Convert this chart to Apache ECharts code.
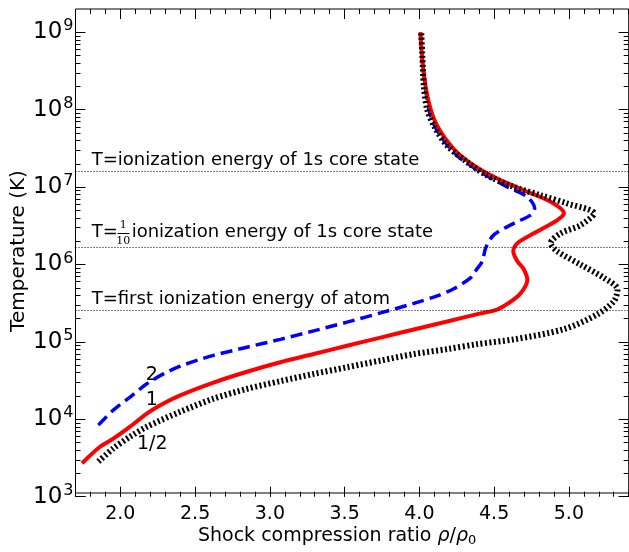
<!DOCTYPE html>
<html>
<head>
<meta charset="utf-8">
<script src="https://cdn.jsdelivr.net/npm/echarts@6/dist/echarts.min.js"></script>
<style>
    html, body { margin: 0; padding: 0; background: #fff; }
    #chart { width: 629px; height: 552px; }
</style>
</head>
<body>
<div id="chart"></div>
<script>
// curve "2" (blue dashed)
var rho2 = [1.853, 1.953, 2.065, 2.177, 2.288, 2.400, 2.512, 2.623, 2.847, 3.070, 3.293, 3.516, 3.740, 3.963, 4.119, 4.230, 4.342, 4.380, 4.421, 4.443, 4.498, 4.632, 4.744, 4.771, 4.722, 4.588, 4.409, 4.253, 4.141, 4.074, 4.026, 4.007];
var temp2 = [7.66e3, 1.20e4, 1.77e4, 2.64e4, 3.55e4, 4.47e4, 5.33e4, 6.19e4, 7.91e4, 1.0e5, 1.29e5, 1.675e5, 2.21e5, 2.94e5, 3.69e5, 4.57e5, 6.31e5, 8.0e5, 1.04e6, 1.54e6, 2.29e6, 3.24e6, 4.15e6, 5.06e6, 7.16e6, 9.64e6, 1.51e7, 2.47e7, 4.48e7, 8.13e7, 3.26e8, 1.0e9];

// curve "1" (red solid)
var rho1 = [1.744, 1.864, 1.953, 2.065, 2.177, 2.288, 2.400, 2.623, 2.847, 3.070, 3.293, 3.516, 3.740, 3.963, 4.186, 4.409, 4.521, 4.632, 4.690, 4.722, 4.697, 4.655, 4.628, 4.655, 4.766, 4.923, 4.967, 4.878, 4.699, 4.521, 4.364, 4.230, 4.119, 4.063, 4.026, 4.007];
var temp1 = [2.44e3, 4.0e3, 5.1e3, 7.3e3, 1.08e4, 1.46e4, 1.87e4, 2.74e4, 3.79e4, 5.04e4, 6.46e4, 8.26e4, 1.055e5, 1.343e5, 1.71e5, 2.18e5, 2.45e5, 3.31e5, 4.29e5, 5.94e5, 8.24e5, 1.04e6, 1.40e6, 1.79e6, 2.40e6, 3.57e6, 4.37e6, 6.18e6, 8.73e6, 1.24e7, 1.84e7, 3.01e7, 6.03e7, 1.21e8, 3.26e8, 1.0e9];

// curve "1/2" (black dotted)
var rhoHalf = [1.853, 1.953, 2.065, 2.177, 2.400, 2.623, 2.847, 3.070, 3.293, 3.516, 3.740, 3.963, 4.186, 4.387, 4.632, 4.967, 5.191, 5.302, 5.325, 5.235, 5.079, 4.923, 4.878, 4.945, 5.079, 5.168, 4.990, 4.811, 4.632, 4.454, 4.320, 4.186, 4.097, 4.052, 4.030, 4.019, 4.012];
var tempHalf = [2.57e3, 3.81e3, 5.41e3, 7.28e3, 1.14e4, 1.69e4, 2.27e4, 2.86e4, 3.55e4, 4.34e4, 5.30e4, 6.44e4, 7.47e4, 8.67e4, 1.0e5, 1.36e5, 2.12e5, 3.16e5, 4.45e5, 6.31e5, 9.38e5, 1.40e6, 1.79e6, 2.40e6, 3.08e6, 4.37e6, 5.87e6, 7.52e6, 9.64e6, 1.36e7, 2.03e7, 3.33e7, 6.03e7, 9.91e7, 1.98e8, 5.36e8, 1.0e9];

// reference temperatures (dotted horizontal lines)
var refTemps = [1.55e7, 1.57e6, 2.43e5];

var xMin = 1.7, xMax = 5.4;
var yMin = 1e3, yMax = 2e9;

var FONT = 'DejaVu Sans';
var W = 629, H = 552;
var gl = 75.5, gr = 0.3, gt = 9, gb = 55.3;
var pxPerUnit = (W - gl - gr) / (xMax - xMin);
var pxPerDecade = (H - gt - gb) / (Math.log10(yMax) - Math.log10(yMin));
// grid used only for the major x ticks 2.0 ... 5.0
var majLeft = gl + (2.0 - xMin) * pxPerUnit;
var majRight = W - (gl + (5.0 - xMin) * pxPerUnit);
// grid used only for the decade ticks 1e3 ... 1e9
var decTop = gt + (Math.log10(yMax) - 9) * pxPerDecade;

function zip(a, b) {
    return a.map(function (v, i) { return [v, b[i]]; });
}

var tickStyle = { color: '#000', width: 1 };

var option = {
    animation: false,
    backgroundColor: '#fff',
    grid: [
        { left: gl, right: gr, top: gt, bottom: gb, show: true, borderColor: '#000', borderWidth: 1 },
        { left: gl, right: gr, top: decTop, bottom: gb },
        { left: majLeft, right: majRight, top: gt, bottom: gb },
        { left: gl, right: gr, top: gt, bottom: gb }
    ],
    xAxis: [
        {
            gridIndex: 0, type: 'value', min: xMin, max: xMax,
            axisLine: { show: false }, axisTick: { show: false }, axisLabel: { show: false }, splitLine: { show: false },
            name: '{n|Shock compression ratio }{i|ρ}{n|/}{i|ρ}{sub|0}',
            nameLocation: 'middle',
            nameGap: 33,
            nameTextStyle: {
                padding: [0, 30, 0, 0],
                rich: {
                    n: { fontFamily: FONT, fontSize: 19, color: '#000' },
                    i: { fontFamily: FONT, fontSize: 19, fontStyle: 'italic', color: '#000' },
                    sub: { fontFamily: FONT, fontSize: 13, color: '#000', padding: [8, 0, 0, 0] }
                }
            }
        },
        { gridIndex: 1, type: 'value', show: false, min: 0, max: 1 },
        // major x ticks + labels
        {
            gridIndex: 2, type: 'value', min: 2.0, max: 5.0, interval: 0.5, position: 'bottom',
            axisLine: { show: false }, splitLine: { show: false },
            axisTick: { inside: true, length: 10, lineStyle: tickStyle },
            axisLabel: {
                margin: 8, color: '#000', fontFamily: FONT, fontSize: 19,
                formatter: function (v) { return v.toFixed(1); }
            }
        },
        {
            gridIndex: 2, type: 'value', min: 2.0, max: 5.0, interval: 0.5, position: 'top',
            axisLine: { show: false }, splitLine: { show: false }, axisLabel: { show: false },
            axisTick: { inside: true, length: 10, lineStyle: tickStyle }
        },
        // minor x ticks
        {
            gridIndex: 3, type: 'value', min: xMin, max: xMax, interval: 0.1, position: 'bottom',
            axisLine: { show: false }, splitLine: { show: false }, axisLabel: { show: false },
            axisTick: { inside: true, length: 5, lineStyle: tickStyle }
        },
        {
            gridIndex: 3, type: 'value', min: xMin, max: xMax, interval: 0.1, position: 'top',
            axisLine: { show: false }, splitLine: { show: false }, axisLabel: { show: false },
            axisTick: { inside: true, length: 5, lineStyle: tickStyle }
        }
    ],
    yAxis: [
        {
            gridIndex: 0, type: 'log', logBase: 10, min: yMin, max: yMax,
            axisLine: { show: false }, axisTick: { show: false }, axisLabel: { show: false }, splitLine: { show: false },
            name: 'Temperature (K)',
            nameLocation: 'middle',
            nameRotate: 90,
            nameGap: 47,
            nameTextStyle: { fontFamily: FONT, fontSize: 20, color: '#000' }
        },
        // decade ticks + labels
        {
            gridIndex: 1, type: 'log', logBase: 10, min: 1e3, max: 1e9, position: 'left',
            axisLine: { show: false }, splitLine: { show: false },
            axisTick: { inside: true, length: 10, lineStyle: tickStyle },
            minorTick: { show: true, splitNumber: 9, length: 5, lineStyle: tickStyle },
            axisLabel: {
                margin: 2, color: '#000',
                formatter: function (v) {
                    return '{b|10}{s|' + Math.round(Math.log10(v)) + '}';
                },
                rich: {
                    b: { fontFamily: FONT, fontSize: 23, color: '#000' },
                    s: { fontFamily: FONT, fontSize: 16, color: '#000', padding: [0, 0, 12, 1] }
                }
            }
        },
        {
            gridIndex: 1, type: 'log', logBase: 10, min: 1e3, max: 1e9, position: 'right',
            axisLine: { show: false }, splitLine: { show: false }, axisLabel: { show: false },
            axisTick: { inside: true, length: 10, lineStyle: tickStyle },
            minorTick: { show: true, splitNumber: 9, length: 5, lineStyle: tickStyle }
        },
        { gridIndex: 2, type: 'value', show: false, min: 0, max: 1 },
        { gridIndex: 3, type: 'value', show: false, min: 0, max: 1 }
    ],
    series: [
        {
            name: '2', type: 'line', xAxisIndex: 0, yAxisIndex: 0,
            data: zip(rho2, temp2), showSymbol: false, symbol: 'none', smooth: 0.3,
            lineStyle: { color: '#0000ff', width: 3.5, type: [12, 6], cap: 'butt' },
            markLine: {
                silent: true, symbol: 'none', label: { show: false },
                lineStyle: { color: '#000', width: 1, type: [1, 2] },
                data: refTemps.map(function (t) { return { yAxis: t }; })
            }
        },
        {
            name: '1', type: 'line', xAxisIndex: 0, yAxisIndex: 0,
            data: zip(rho1, temp1), showSymbol: false, symbol: 'none', smooth: 0.3,
            lineStyle: { color: '#ff0000', width: 4 }
        },
        {
            name: '1/2', type: 'line', xAxisIndex: 0, yAxisIndex: 0,
            data: zip(rhoHalf, tempHalf), showSymbol: false, symbol: 'none', smooth: 0.3,
            lineStyle: { color: '#000', width: 6, type: [2, 2.5], cap: 'butt' }
        }
    ],
    graphic: [
        { type: 'text', x: 91.7, y: 160.5, style: { text: 'T=ionization energy of 1s core state', font: '18px "DejaVu Sans"', fill: '#000', verticalAlign: 'middle' } },
        { type: 'text', x: 91.7, y: 232, style: { text: 'T=', font: '18px "DejaVu Sans"', fill: '#000', verticalAlign: 'middle' } },
        { type: 'text', x: 123.3, y: 225, style: { text: '1', font: '11px "DejaVu Serif"', fill: '#000', align: 'center', verticalAlign: 'middle' } },
        { type: 'line', shape: { x1: 117.5, y1: 233.5, x2: 129.5, y2: 233.5 }, style: { stroke: '#000', lineWidth: 1 } },
        { type: 'text', x: 123.3, y: 241.5, style: { text: '10', font: '11px "DejaVu Serif"', fill: '#000', align: 'center', verticalAlign: 'middle' } },
        { type: 'text', x: 131.7, y: 232, style: { text: 'ionization energy of 1s core state', font: '18px "DejaVu Sans"', fill: '#000', verticalAlign: 'middle' } },
        { type: 'text', x: 91.7, y: 299.5, style: { text: 'T=first ionization energy of atom', font: '18px "DejaVu Sans"', fill: '#000', verticalAlign: 'middle' } },
        { type: 'text', x: 151.7, y: 375, style: { text: '2', font: '19px "DejaVu Sans"', fill: '#000', align: 'center', verticalAlign: 'middle' } },
        { type: 'text', x: 151.7, y: 400.5, style: { text: '1', font: '19px "DejaVu Sans"', fill: '#000', align: 'center', verticalAlign: 'middle' } },
        { type: 'text', x: 152.3, y: 444.3, style: { text: '1/2', font: '19px "DejaVu Sans"', fill: '#000', align: 'center', verticalAlign: 'middle' } }
    ]
};

var chart = echarts.init(document.getElementById('chart'), null, { renderer: 'canvas' });
chart.setOption(option);
</script>
</body>
</html>
